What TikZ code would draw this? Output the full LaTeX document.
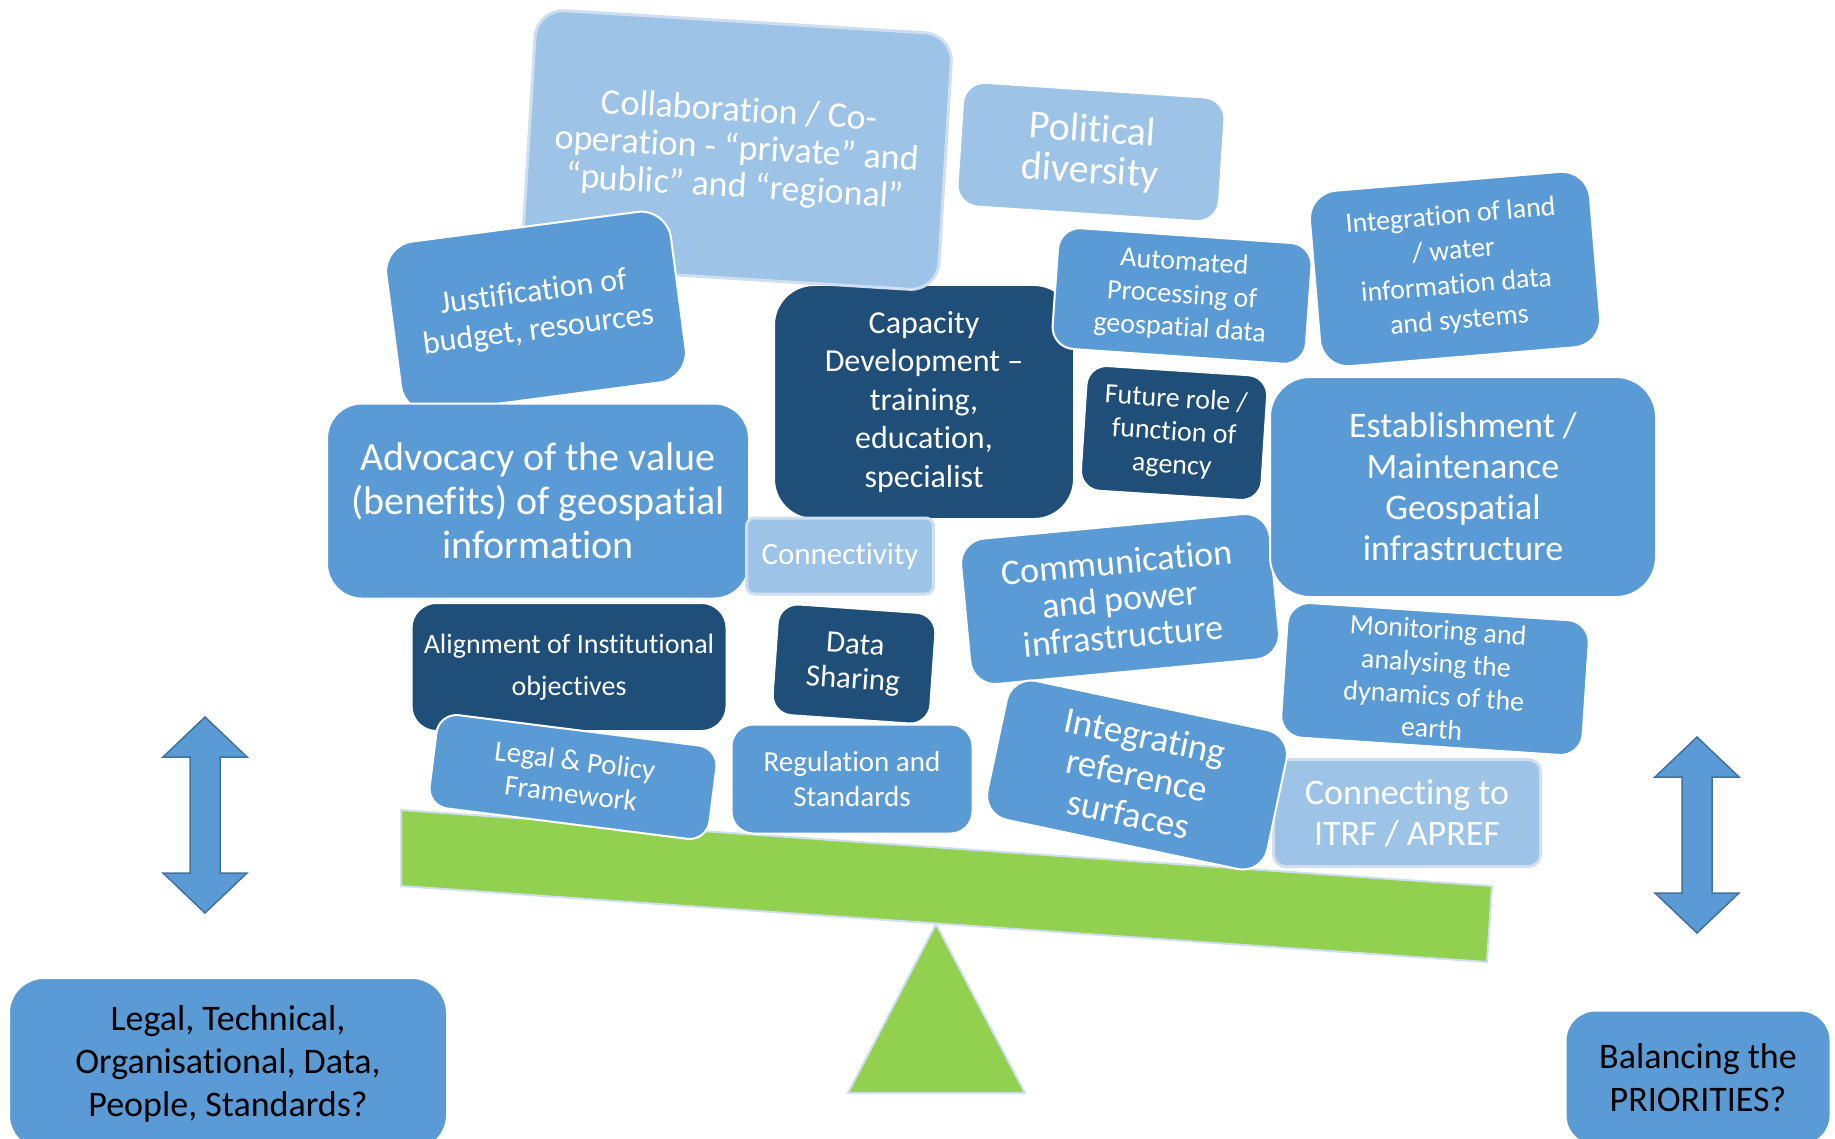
\documentclass[tikz,border=0pt]{standalone}
\usepackage{fontspec}
\setmainfont{Carlito}[Ligatures=NoCommon]
\usepackage{tikz}
\usetikzlibrary{shapes,positioning,calc}
\usepackage{xcolor}
\definecolor{liteblue}{HTML}{9DC3E6}
\definecolor{midblue}{HTML}{5B9BD5}
\definecolor{darkblue}{HTML}{1F4E79}
\definecolor{edgeblue}{HTML}{41719C}
\definecolor{beamgreen}{HTML}{92D050}
\definecolor{paleedge}{HTML}{D0DEF2}
\newcommand{\boxfont}[2]{\fontsize{#1}{#2}\selectfont}

\begin{document}
\begin{tikzpicture}[
    x=1pt, y=-1pt,
    tile/.style={draw=white, line width=2pt, rounded corners=22pt, align=center, inner sep=0pt, text=white},
    lite/.style={tile, fill=liteblue, draw=paleedge, line width=3pt},
    mid/.style={tile, fill=midblue},
    dark/.style={tile, fill=darkblue},
    beam/.style={fill=beamgreen, draw=paleedge, line width=2pt},
    dblarrow/.style={fill=midblue, draw=edgeblue, line width=1.5pt}
]
    \useasboundingbox (0,0) rectangle (1835,1139);

    % upper pile
    \node[dark, rounded corners=40pt, minimum width=300pt, minimum height=234pt, font=\boxfont{32}{38.5}] (cap) at (924,402) {Capacity\\Development --\\training,\\education,\\specialist};
    \node[lite, rounded corners=28pt, rotate=-3.5, minimum width=417pt, minimum height=257pt, font=\boxfont{36}{38}] (collab) at (737,150) {Collaboration / Co-\\operation - “private” and\\“public” and “regional”};
    \node[mid, rounded corners=30pt, rotate=7.5, minimum width=287pt, minimum height=172pt, font=\boxfont{32}{38}] (just) at (536,312) {Justification of\\budget, resources};
    \node[lite, draw=white, rotate=-3.8, minimum width=263pt, minimum height=125pt, font=\boxfont{40}{41}] (pol) at (1091,152) {Political\\diversity};
    \node[mid, rotate=-4, minimum width=254pt, minimum height=121pt, font=\boxfont{28}{33}] (auto) at (1182,296) {Automated\\Processing of\\geospatial data};
    \node[mid, rounded corners=28pt, rotate=4.8, minimum width=281pt, minimum height=176pt, font=\boxfont{28}{35}] (landwater) at (1455,269) {Integration of land\\/ water\\information data\\and systems};
    \node[dark, rounded corners=20pt, rotate=-3.7, minimum width=181pt, minimum height=125pt, font=\boxfont{28}{33}] (future) at (1174,433) {Future role /\\function of\\agency};
    \node[mid, rounded corners=25pt, rotate=5.4, minimum width=310pt, minimum height=146pt, font=\boxfont{36}{37}] (comm) at (1120,599) {Communication\\and power\\infrastructure};
    \node[mid, rounded corners=40pt, minimum width=386pt, minimum height=220pt, font=\boxfont{36}{41}] (estab) at (1463,487) {Establishment /\\Maintenance\\Geospatial\\infrastructure};
    \node[mid, rounded corners=35pt, minimum width=422pt, minimum height=195pt, font=\boxfont{40}{44}] (advocacy) at (538,501) {Advocacy of the value\\(benefits) of geospatial\\information};
    \node[lite, rounded corners=8pt, minimum width=187pt, minimum height=76pt, font=\boxfont{31}{35}] (connect) at (840,556) {Connectivity};

    % lower pile
    \node[dark, rounded corners=25pt, minimum width=315pt, minimum height=128pt, font=\boxfont{28}{42}] (align) at (569,667) {Alignment of Institutional\\objectives};
    \node[dark, rounded corners=20pt, rotate=-4, minimum width=158pt, minimum height=111pt, font=\boxfont{31}{35}] (share) at (854,664) {Data\\Sharing};
    \node[mid, rotate=-3.8, minimum width=302pt, minimum height=135pt, font=\boxfont{28}{33}] (monitor) at (1435,679) {Monitoring and\\analysing the\\dynamics of the\\earth};

    % the see-saw beam
    \draw[beam] (401,810) -- (1492,886) -- (1487,962) -- (401,886) -- cycle;

    \node[mid, minimum width=241pt, minimum height=109pt, font=\boxfont{29}{35}] (regul) at (852,779) {Regulation and\\Standards};
    \node[mid, rounded corners=20pt, rotate=-7.2, minimum width=282pt, minimum height=94pt, font=\boxfont{29}{33}] (legal) at (573,777) {Legal \& Policy\\Framework};
    \node[lite, rounded corners=12pt, minimum width=267pt, minimum height=107pt, font=\boxfont{36}{41}] (itrf) at (1407,813) {Connecting to\\ITRF / APREF};
    \node[mid, rounded corners=25pt, rotate=-12, minimum width=286pt, minimum height=142pt, font=\boxfont{37}{40}] (refsurf) at (1137,775) {Integrating\\reference\\surfaces};

    % fulcrum
    \draw[beam] (936,924) -- (1025,1093) -- (848,1093) -- cycle;

    % up/down arrows
    \foreach \ax/\ay in {205/717, 1697/737}
        \draw[dblarrow, shift={(\ax,\ay)}] (0,0) -- (42,40) -- (15,40) -- (15,156) -- (42,156) -- (0,196)
            -- (-42,156) -- (-15,156) -- (-15,40) -- (-42,40) -- cycle;

    % questions
    \node[mid, text=black, rounded corners=35pt, minimum width=438pt, minimum height=172pt, font=\boxfont{36}{43}] (aspects) at (228,1064) {Legal, Technical,\\Organisational, Data,\\People, Standards?};
    \node[mid, text=black, rounded corners=30pt, minimum width=265pt, minimum height=135pt, font=\boxfont{36}{43}] (balance) at (1698,1078) {Balancing the\\PRIORITIES?};
\end{tikzpicture}
\end{document}
